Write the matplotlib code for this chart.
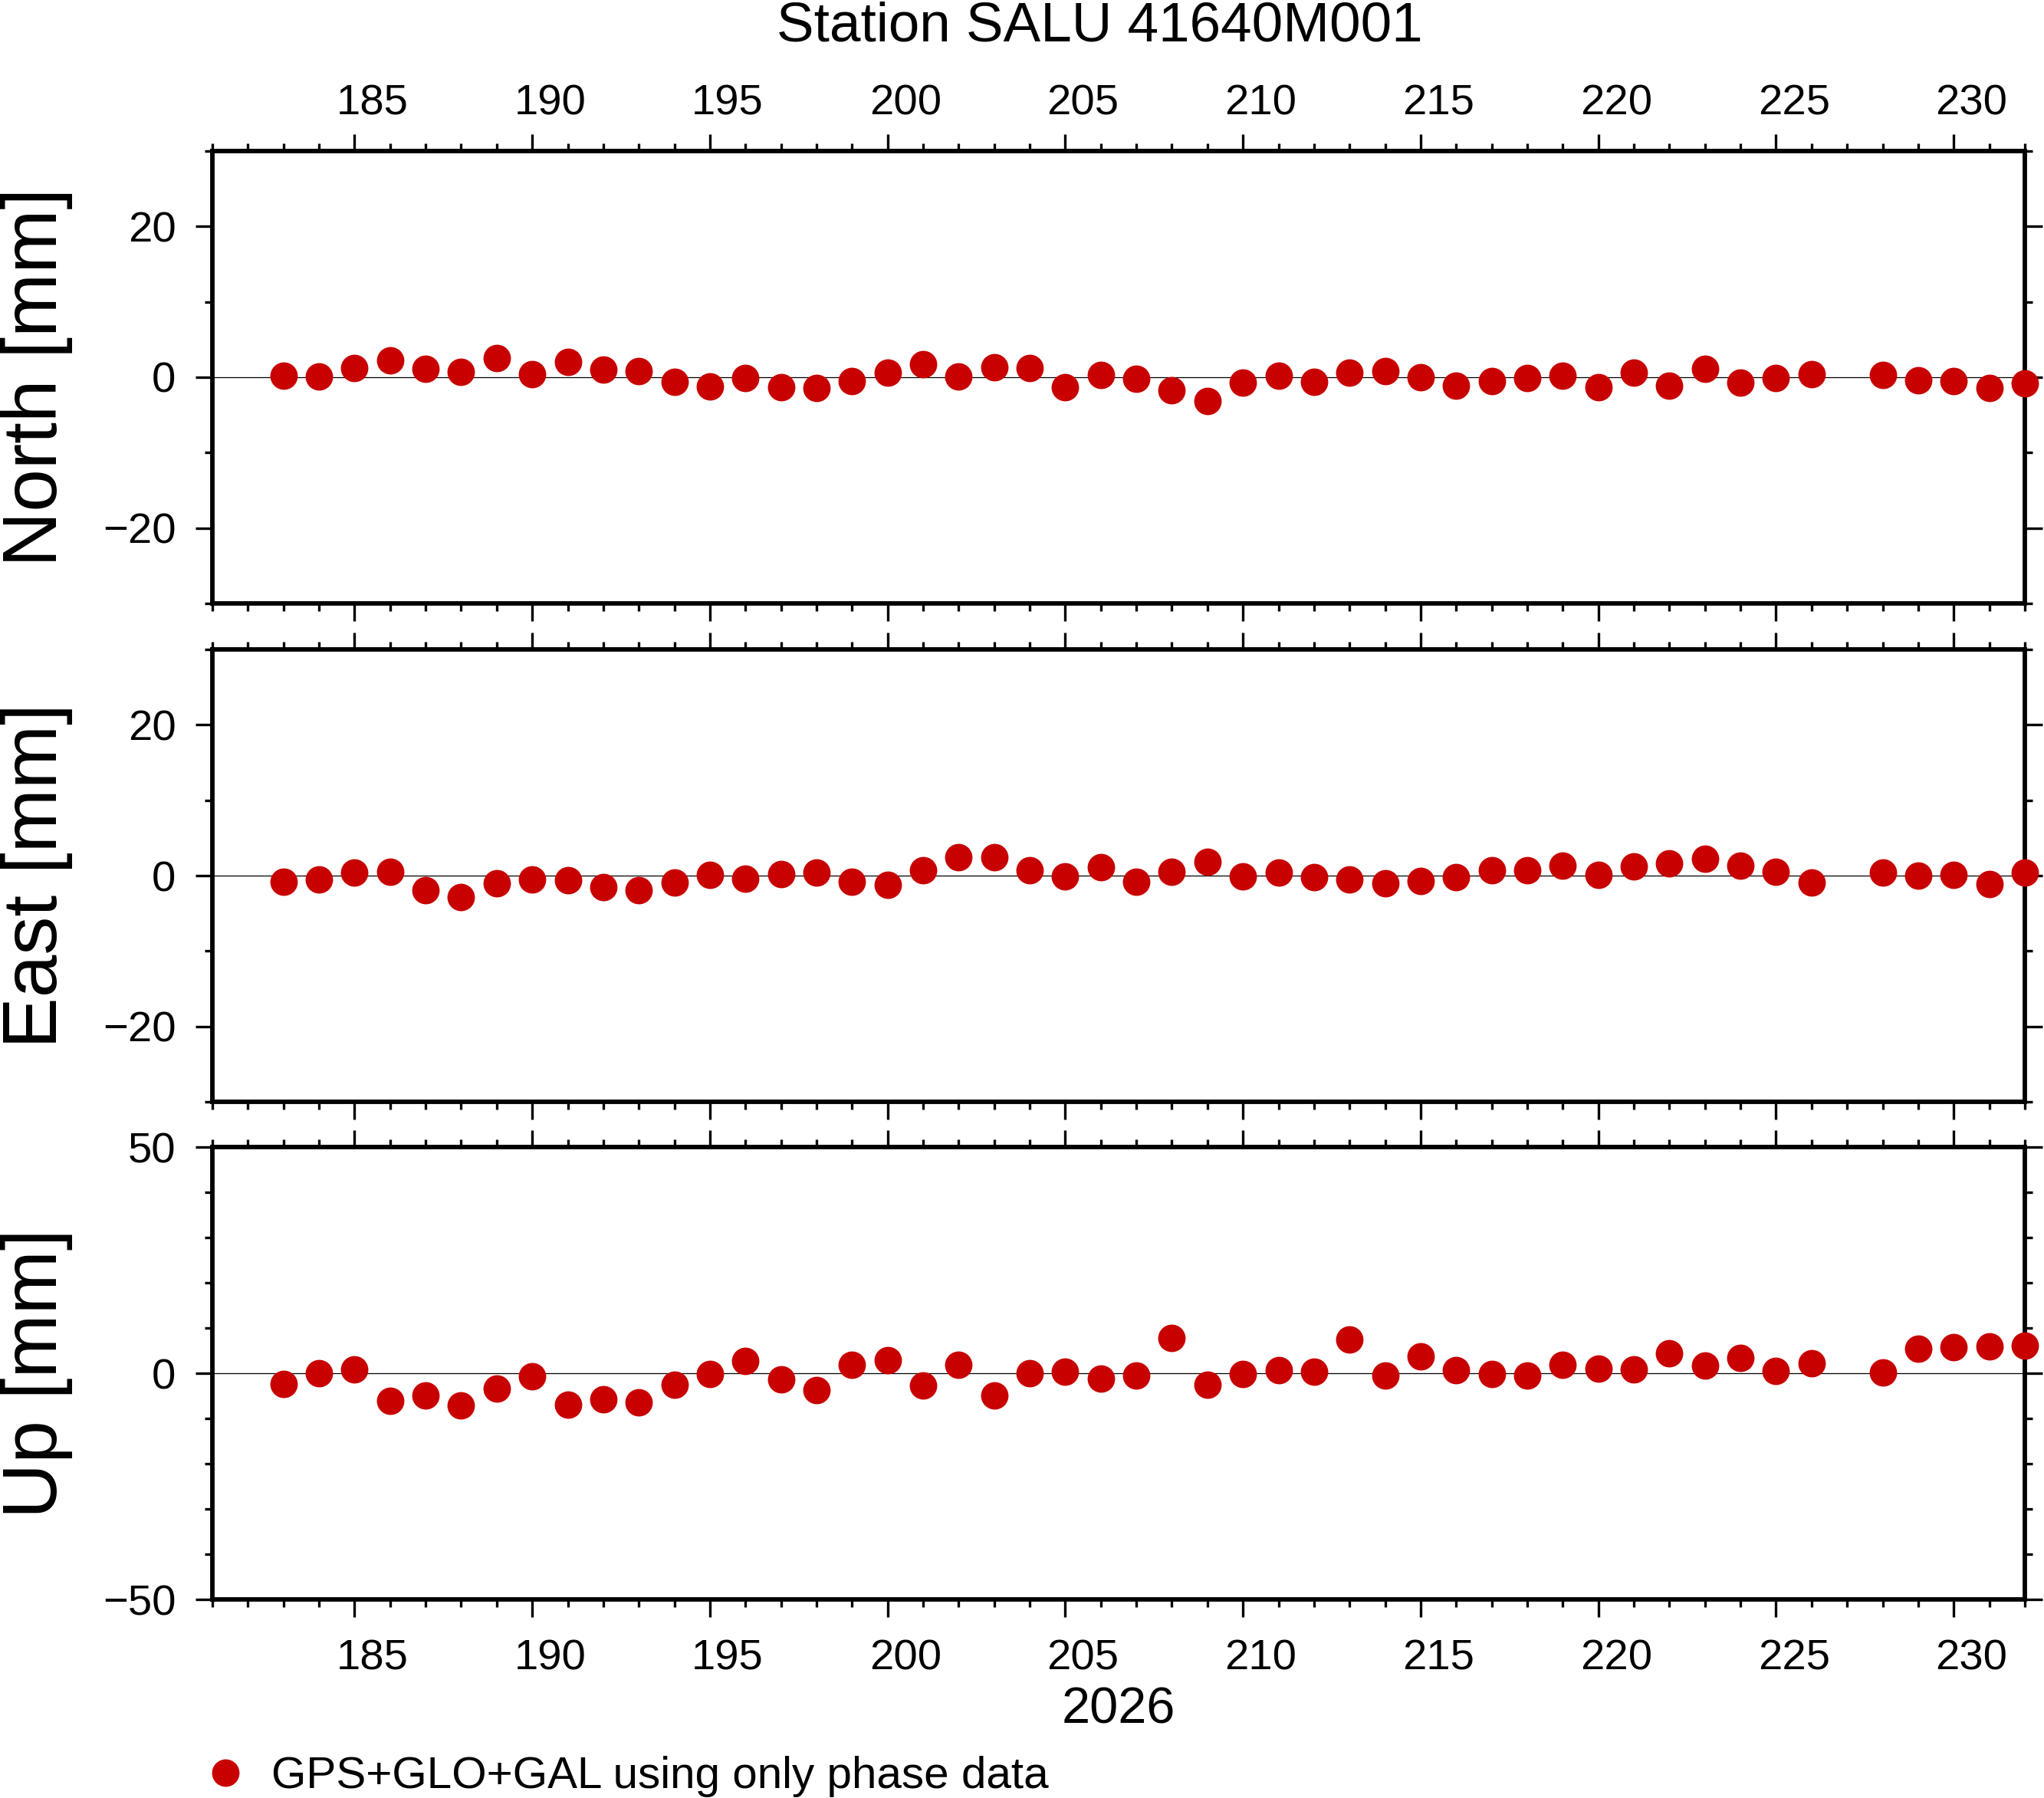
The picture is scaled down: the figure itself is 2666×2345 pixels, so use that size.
import numpy as np
import matplotlib
matplotlib.use("Agg")
import matplotlib.pyplot as plt
import matplotlib.transforms as mtransforms

plt.rcParams['font.family'] = ['Liberation Sans', 'DejaVu Sans']

DAYS = list(range(183, 227)) + list(range(228, 233))

NORTH = [0.17, 0.07, 1.18, 2.2, 1.08, 0.68, 2.5, 0.37, 2.0, 0.98, 0.78, -0.64, -1.25,
         -0.14, -1.35, -1.46, -0.54, 0.58, 1.69, 0.07, 1.29, 1.18, -1.35, 0.27, -0.24,
         -1.76, -3.18, -0.74, 0.17, -0.64, 0.58, 0.78, -0.03, -1.15, -0.54, -0.14, 0.17,
         -1.35, 0.58, -1.15, 1.08, -0.74, -0.14, 0.37,
         0.27, -0.44, -0.54, -1.46, -0.85]
EAST = [-0.81, -0.54, 0.37, 0.47, -1.96, -2.88, -1.05, -0.54, -0.64, -1.56, -1.96, -0.95, 0.07,
        -0.44, 0.17, 0.37, -0.85, -1.25, 0.68, 2.4, 2.4, 0.68, -0.14, 1.08, -0.85,
        0.47, 1.79, -0.14, 0.37, -0.24, -0.54, -1.05, -0.74, -0.24, 0.68, 0.68, 1.29,
        0.07, 1.18, 1.59, 2.2, 1.29, 0.47, -0.95,
        0.37, -0.03, 0.07, -1.15, 0.37]
UP = [-2.36, 0.0, 0.84, -6.07, -4.89, -7.08, -3.37, -0.67, -6.9, -5.73, -6.4, -2.53, -0.17,
      2.7, -1.35, -3.7, 1.85, 2.87, -2.7, 1.85, -4.89, 0.0, 0.34, -1.18, -0.5,
      7.75, -2.53, -0.17, 0.67, 0.34, 7.42, -0.5, 3.7, 0.67, -0.17, -0.5, 1.85,
      1.0, 0.84, 4.38, 1.69, 3.37, 0.5, 2.19,
      0.17, 5.4, 5.73, 5.9, 6.07]

COMPONENTS = ['North [mm]', 'East [mm]', 'Up [mm]']
SERIES = [NORTH, EAST, UP]
YLIMS = [(-30, 30), (-30, 30), (-50, 50)]
YMAJOR = [20, 20, 50]
YMINOR = [10, 10, 10]
XTICKS = list(range(185, 231, 5))

TITLE = 'Station SALU 41640M001'
YEAR = '2026'
LEGEND = 'GPS+GLO+GAL using only phase data'
RED = '#c80000'

W, H, DPI = 2666, 2345, 300
fig = plt.figure(figsize=(W / DPI, H / DPI), dpi=DPI)

left, width, height = 0.1039, 0.8867, 0.2516
bottoms = [0.6644, 0.3872, 0.1104]
xmin, xmax = 181, 232

axes = []
for i in range(3):
    ax = fig.add_axes([left, bottoms[i], width, height])
    ax.axhline(0, color='black', lw=0.3, zorder=1)
    line, = ax.plot(DAYS, SERIES[i], 'o', color=RED, ms=8.6, mec='none',
                    clip_on=False, zorder=3)
    ax.set_xlim(xmin, xmax)
    ax.set_ylim(*YLIMS[i])
    ax.set_xticks(XTICKS)
    ax.set_xticks(range(xmin, xmax + 1), minor=True)
    lo, hi = YLIMS[i]
    ax.set_yticks(np.arange(lo, hi + 1, YMAJOR[i]) if lo % YMAJOR[i] == 0
                  else np.arange(-YMAJOR[i], hi + 1, YMAJOR[i]))
    ax.set_yticks(np.arange(lo, hi + 1, YMINOR[i]), minor=True)
    for s in ax.spines.values():
        s.set_linewidth(1.4)
    ax.tick_params(which='both', direction='out', top=True, right=True,
                   width=0.8, labelsize=13.5, pad=6)
    ax.tick_params(which='major', length=5.4)
    ax.tick_params(which='minor', length=2.3)
    ax.tick_params(axis='x', which='major', pad=7)
    ax.tick_params(axis='x', labelbottom=(i == 2), labeltop=(i == 0))
    fig.text(48 / W, bottoms[i] + height / 2, COMPONENTS[i], rotation=90,
             ha='center', va='center', fontsize=24)
    axes.append(ax)

# day labels sit in the middle of the day; top ones a bit closer to the frame
half_day = 0.5 * (width * W / (xmax - xmin)) / DPI
off_bot = mtransforms.ScaledTranslation(half_day, 0, fig.dpi_scale_trans)
off_top = mtransforms.ScaledTranslation(half_day, -16 / DPI, fig.dpi_scale_trans)
for ax in (axes[0], axes[2]):
    for t in ax.xaxis.get_major_ticks():
        t.label1.set_transform(t.label1.get_transform() + off_bot)
        t.label2.set_transform(t.label2.get_transform() + off_top)

fig.text(1434 / W, 1 - 54 / H, TITLE, ha='center', va='baseline', fontsize=17.5)
fig.text(left + width / 2, 0.0414, YEAR, ha='center', va='baseline', fontsize=16)

fig.legend(handles=[line], labels=[LEGEND], loc='center left',
           bbox_to_anchor=(276.5 / W, 1 - 2317 / H), frameon=False,
           borderpad=0, borderaxespad=0, handlelength=0.6, handletextpad=0.73,
           fontsize=14, numpoints=1)

fig.savefig('out.png', dpi=DPI)
